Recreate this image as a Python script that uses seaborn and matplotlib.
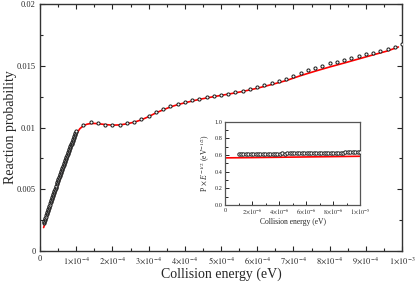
import numpy as np
import pandas as pd
import matplotlib
matplotlib.use('Agg')
import matplotlib.pyplot as plt
import seaborn as sns
from matplotlib.ticker import MultipleLocator, FixedLocator, FixedFormatter

# dense low-energy points (step 1e-6 eV)
dense_e = np.arange(91) * 1e-6 + 1e-5
dense_p = [0.00225, 0.00234, 0.00243, 0.00252, 0.00261, 0.00270, 0.00279, 0.00288, 0.00297, 0.00305,
           0.00314, 0.00323, 0.00332, 0.00341, 0.00350, 0.00358, 0.00367, 0.00376, 0.00385, 0.00393,
           0.00402, 0.00410, 0.00419, 0.00428, 0.00437, 0.00445, 0.00454, 0.00462, 0.00471, 0.00479,
           0.00488, 0.00496, 0.00505, 0.00513, 0.00522, 0.00530, 0.00539, 0.00547, 0.00556, 0.00564,
           0.00572, 0.00580, 0.00589, 0.00597, 0.00606, 0.00614, 0.00622, 0.00630, 0.00639, 0.00647,
           0.00655, 0.00663, 0.00672, 0.00680, 0.00688, 0.00696, 0.00704, 0.00712, 0.00720, 0.00728,
           0.00736, 0.00744, 0.00752, 0.00760, 0.00768, 0.00776, 0.00784, 0.00792, 0.00800, 0.00808,
           0.00816, 0.00824, 0.00832, 0.00839, 0.00847, 0.00855, 0.00863, 0.00870, 0.00878, 0.00886,
           0.00894, 0.00901, 0.00909, 0.00916, 0.00924, 0.00931, 0.00939, 0.00947, 0.00955, 0.00962,
           0.00970]

# sparse points (step 2e-5 eV)
sparse_e = np.arange(45) * 2e-5 + 1.2e-4
sparse_p = [0.01020, 0.01042, 0.01034, 0.01023, 0.01018, 0.01023, 0.01034, 0.01047, 0.01066, 0.01097,
            0.01123, 0.01147, 0.01172, 0.01190, 0.01206, 0.01223, 0.01233, 0.01247, 0.01255, 0.01266,
            0.01274, 0.01285, 0.01298, 0.01312, 0.01328, 0.01347, 0.01360, 0.01377, 0.01393, 0.01417,
            0.01444, 0.01463, 0.01484, 0.01500, 0.01520, 0.01533, 0.01547, 0.01563, 0.01577, 0.01593,
            0.01606, 0.01619, 0.01636, 0.01654, 0.01674]

# red curve
red_e = [0.1e-4, 0.2e-4, 0.3e-4, 0.4e-4, 0.5e-4, 0.6e-4, 0.7e-4, 0.8e-4, 0.9e-4, 1.0e-4,
         1.1e-4, 1.2e-4, 1.3e-4, 1.4e-4, 1.5e-4, 1.6e-4, 1.8e-4, 2.0e-4, 2.2e-4, 2.4e-4,
         2.6e-4, 2.8e-4, 3.0e-4, 3.2e-4, 3.4e-4, 3.6e-4, 3.8e-4, 4.0e-4, 4.4e-4, 4.8e-4,
         5.2e-4, 5.6e-4, 6.0e-4, 6.4e-4, 6.8e-4, 7.2e-4, 7.6e-4, 8.0e-4, 8.4e-4, 8.8e-4,
         9.2e-4, 9.6e-4, 9.9e-4]
red_p = [0.0019, 0.0028, 0.0037, 0.00455, 0.0054, 0.0063, 0.0071, 0.0080, 0.0088, 0.00945,
         0.0099, 0.01015, 0.01027, 0.01032, 0.01033, 0.01031, 0.01024, 0.01019, 0.01021, 0.01030,
         0.01043, 0.01062, 0.01088, 0.01118, 0.01143, 0.01166, 0.01185, 0.01200, 0.01228, 0.01250,
         0.01270, 0.01292, 0.01318, 0.01348, 0.01380, 0.01420, 0.01456, 0.01490, 0.01522, 0.01555,
         0.01588, 0.01620, 0.01652]

# inset: P x E^-1/2
ins_e = np.arange(51) * 1.8e-7 + 1e-6
ins_p = [0.612, 0.611, 0.612, 0.613, 0.612, 0.613, 0.614, 0.613, 0.614, 0.615,
         0.614, 0.615, 0.616, 0.615, 0.616, 0.617, 0.616, 0.617, 0.618, 0.617,
         0.618, 0.619, 0.618, 0.619, 0.620, 0.620, 0.621, 0.621, 0.622, 0.622,
         0.623, 0.623, 0.624, 0.624, 0.625, 0.625, 0.626, 0.626, 0.627, 0.627,
         0.628, 0.628, 0.629, 0.629, 0.630, 0.630, 0.631, 0.631, 0.632, 0.632,
         0.633]
ins_red_e = [1e-7, 2e-6, 4e-6, 6e-6, 8e-6, 1e-5]
ins_red_p = [0.565, 0.568, 0.572, 0.576, 0.580, 0.584]

x_ticks = [0, 1e-4, 2e-4, 3e-4, 4e-4, 5e-4, 6e-4, 7e-4, 8e-4, 9e-4, 1e-3]
x_labels = ['0', r'$1{\times}10^{-4}$', r'$2{\times}10^{-4}$', r'$3{\times}10^{-4}$', r'$4{\times}10^{-4}$',
            r'$5{\times}10^{-4}$', r'$6{\times}10^{-4}$', r'$7{\times}10^{-4}$', r'$8{\times}10^{-4}$',
            r'$9{\times}10^{-4}$', r'$1{\times}10^{-3}$']
y_ticks = [0, 0.005, 0.01, 0.015, 0.02]
y_labels = ['0', '0.005', '0.01', '0.015', '0.02']
ins_x_ticks = [0, 2e-6, 4e-6, 6e-6, 8e-6, 1e-5]
ins_x_labels = ['0', r'$2{\times}10^{-6}$', r'$4{\times}10^{-6}$', r'$6{\times}10^{-6}$',
                r'$8{\times}10^{-6}$', r'$1{\times}10^{-5}$']
ins_y_ticks = [0, 0.2, 0.4, 0.6, 0.8, 1.0]
ins_y_labels = ['0.0', '0.2', '0.4', '0.6', '0.8', '1.0']

sns.set_style('ticks')
plt.rcParams['font.family'] = ['Liberation Serif', 'DejaVu Serif']
plt.rcParams['mathtext.fontset'] = 'stix'

pts = pd.DataFrame({'E': np.concatenate([dense_e, sparse_e]),
                    'P': dense_p + sparse_p})

fig = plt.figure(figsize=(4.15, 2.82), dpi=100)
ax = fig.add_axes([0.0964, 0.1099, 0.8723, 0.8759])

sns.lineplot(x=red_e, y=red_p, color='red', lw=1.2, ax=ax, sort=False, estimator=None, zorder=2)
sns.scatterplot(data=pts, x='E', y='P', ax=ax, marker='o', s=5, color='white',
                edgecolor='#222222', linewidth=0.75, zorder=3)

ax.set_xlim(0, 1e-3)
ax.set_ylim(0, 0.02)
ax.xaxis.set_major_locator(FixedLocator(x_ticks))
ax.xaxis.set_major_formatter(FixedFormatter(x_labels))
ax.xaxis.set_minor_locator(MultipleLocator(0.5e-4))
ax.yaxis.set_major_locator(FixedLocator(y_ticks))
ax.yaxis.set_major_formatter(FixedFormatter(y_labels))
ax.yaxis.set_minor_locator(MultipleLocator(0.0025))
ax.tick_params(which='both', direction='in', top=True, right=True, width=0.8, labelsize=6, pad=3)
ax.tick_params(which='major', length=3.5)
ax.tick_params(which='minor', length=2)
for s in ax.spines.values():
    s.set_linewidth(1.0)
    s.set_color('#333333')
ax.set_xlabel('Collision energy (eV)', fontsize=10, labelpad=1)
ax.set_ylabel('Reaction probability', fontsize=10)
ax.yaxis.set_label_coords(-0.063, 0.5)

# inset
ax2 = fig.add_axes([0.5422, 0.273, 0.3253, 0.296])
sns.lineplot(x=ins_red_e, y=ins_red_p, color='red', lw=1.2, ax=ax2, sort=False, estimator=None, zorder=2)
sns.scatterplot(x=ins_e, y=ins_p, ax=ax2, marker='o', s=6, color='white',
                edgecolor='#222222', linewidth=0.7, zorder=3)
ax2.set_xlim(0, 1e-5)
ax2.set_ylim(0, 1.0)
ax2.xaxis.set_major_locator(FixedLocator(ins_x_ticks))
ax2.xaxis.set_major_formatter(FixedFormatter(ins_x_labels))
ax2.xaxis.set_minor_locator(MultipleLocator(1e-6))
ax2.yaxis.set_major_locator(FixedLocator(ins_y_ticks))
ax2.yaxis.set_major_formatter(FixedFormatter(ins_y_labels))
ax2.yaxis.set_minor_locator(MultipleLocator(0.1))
ax2.tick_params(which='both', direction='in', width=0.7, labelsize=4.5, pad=2)
ax2.tick_params(which='major', length=3)
ax2.tick_params(which='minor', length=1.8)
for s in ax2.spines.values():
    s.set_linewidth(0.9)
    s.set_color('#555555')
ax2.set_xlabel('Collision energy (eV)', fontsize=5.5, labelpad=1)
ax2.set_ylabel(r'P $\times$ $E^{-1/2}$ (eV$^{-1/2}$)', fontsize=5.5, labelpad=2)

fig.savefig('out.png', dpi=100)
